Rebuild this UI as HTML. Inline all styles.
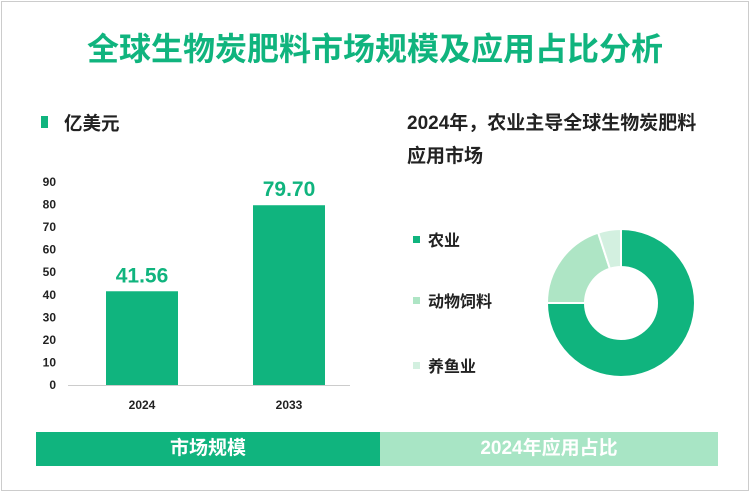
<!DOCTYPE html>
<html><head><meta charset="utf-8"><style>
body{margin:0;width:750px;height:492px;overflow:hidden;background:#fff;font-family:"Liberation Sans","Noto Sans CJK SC",sans-serif;}
.frame{position:absolute;left:1px;top:1px;width:746px;height:488px;border:1px solid #ccc;}
.t{position:absolute;white-space:nowrap;}
</style></head><body>
<div class="frame"></div>
<div class="t" style="left:0;width:750px;text-align:center;top:24px;font-size:32px;font-weight:bold;color:#10b47e;">全球生物炭肥料市场规模及应用占比分析</div>
<div style="position:absolute;left:41px;top:116px;width:7px;height:12px;background:#10b47e"></div>
<div class="t" style="left:64px;top:110px;font-size:18.5px;font-weight:bold;color:#222">亿美元</div>
<div class="t" style="left:407px;top:107px;font-size:19px;font-weight:bold;color:#222;line-height:33px">2024年，农业主导全球生物炭肥料<br>应用市场</div>
<svg id="chart" width="750" height="492" style="position:absolute;left:0;top:0"></svg>
<div style="position:absolute;left:36px;top:432px;width:344px;height:34px;background:#10b47e;color:#fff;font-size:19px;font-weight:bold;text-align:center;line-height:34px">市场规模</div>
<div style="position:absolute;left:380px;top:432px;width:338px;height:34px;background:#a8e5c5;color:#fff;font-size:19px;font-weight:bold;text-align:center;line-height:34px">2024年应用占比</div>
<script>
const categories=["2024","2033"];
const values=[41.56,79.70];
const ticks=[0,10,20,30,40,50,60,70,80,90];
const pieLabels=["农业","动物饲料","养鱼业"];
const pieValues=[75,20,5];
const pieColors=["#10b47e","#aee5c5","#d3f0e0"];
const NS="http://www.w3.org/2000/svg";
const svg=document.getElementById('chart');
function mk(tag,attrs,txt){const e=document.createElementNS(NS,tag);for(const k in attrs)e.setAttribute(k,attrs[k]);if(txt!==undefined)e.textContent=txt;svg.appendChild(e);return e;}
const y0=385,y1=182,vmax=90;
function yScale(v){return y0-(v/vmax)*(y0-y1);}
const xCenters=[142,289];
function xScale(i){return xCenters[i];}
const bw=72;
ticks.forEach(t=>{
 const e=mk('text',{x:56,y:yScale(t)+4,'text-anchor':'end','font-size':12,'font-weight':'bold',fill:'#222'},t);
 
 
});
const ax=mk('line',{x1:68,x2:350,y1:y0+0.5,y2:y0+0.5,stroke:'#ccc','stroke-width':1});


categories.forEach((c,i)=>{
 const x=xScale(i),y=yScale(values[i]);
 const r=mk('rect',{x:x-bw/2,y:y,width:bw,height:y0-y,fill:'#10b47e'});
 
 
 const v=mk('text',{x:x,y:y-9,'text-anchor':'middle','font-size':21,'font-weight':'bold',fill:'#10b47e'},values[i].toFixed(2));
 
 
 const l=mk('text',{x:x,y:409,'text-anchor':'middle','font-size':12,'font-weight':'bold',fill:'#222'},c);
 
 
});
const cx=621,cy=303,R=74,r0=36;
const tot=pieValues.reduce((a,b)=>a+b,0);
let a=-Math.PI/2;
function pt(rad,ang){return [cx+rad*Math.cos(ang),cy+rad*Math.sin(ang)];}
pieValues.forEach((v,i)=>{
 const a2=a+v/tot*2*Math.PI;const lg=(a2-a)>Math.PI?1:0;
 const p1=pt(R,a),p2=pt(R,a2),p3=pt(r0,a2),p4=pt(r0,a);
 const d=`M${p1}A${R},${R} 0 ${lg} 1 ${p2}L${p3}A${r0},${r0} 0 ${lg} 0 ${p4}Z`;
 const s=mk('path',{d:d,fill:pieColors[i],stroke:'#fff','stroke-width':2});
 
 
 a=a2;
});
const ly=[241,302,367];
pieLabels.forEach((n,i)=>{
 const sw=mk('rect',{x:413,y:ly[i]-5,width:7,height:7,fill:pieColors[i]});
 
 
 const t=mk('text',{x:428,y:ly[i]+5,'font-size':16,'font-weight':'bold',fill:'#222'},n);
 
 
});
</script>
</body></html>
